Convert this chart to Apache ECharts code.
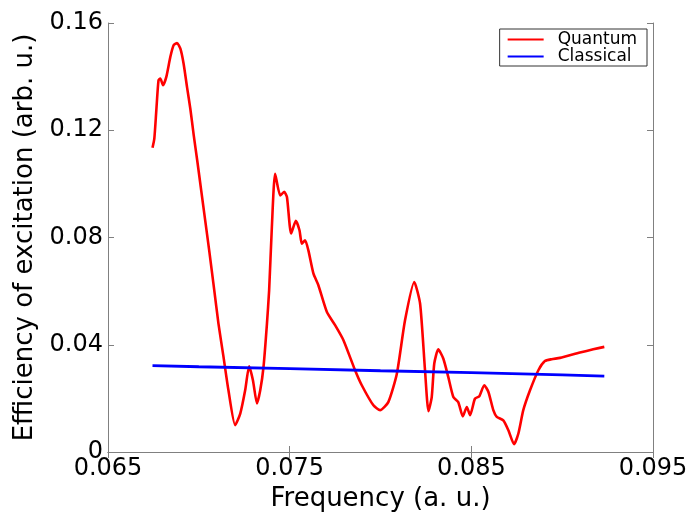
<!DOCTYPE html>
<html>
<head>
<meta charset="utf-8">
<script src="https://cdn.jsdelivr.net/npm/echarts@6/dist/echarts.min.js"></script>
<style>
html,body{margin:0;padding:0;background:#fff;}
#chart{width:691px;height:517px;}
</style>
</head>
<body>
<div id="chart"></div>
<script>
// Frequency ticks (a. u.)
const xTicks = [0.065, 0.075, 0.085, 0.095];
const yTicks = [0, 0.04, 0.08, 0.12, 0.16];

// Quantum curve: frequency values and efficiency values
const quantumFreq = [
0.06745,0.06755,0.06766,0.06778,0.06788,0.06803,0.06821,0.06843,0.06861,0.06880,
0.06898,0.06916,0.06935,0.06953,0.06972,0.06991,0.07013,0.07035,0.07057,0.07085,
0.07108,0.07136,0.07163,0.07200,0.07228,0.07255,0.07277,0.07298,0.07320,0.07338,
0.07356,0.07375,0.07387,0.07402,0.07420,0.07448,0.07470,0.07485,0.07508,0.07534,
0.07554,0.07567,0.07585,0.07603,0.07631,0.07658,0.07705,0.07750,0.07796,0.07860,
0.07897,0.07961,0.07998,0.08043,0.08090,0.08135,0.08186,0.08218,0.08245,0.08264,
0.08282,0.08296,0.08318,0.08346,0.08373,0.08401,0.08428,0.08453,0.08475,0.08493,
0.08520,0.08544,0.08571,0.08594,0.08621,0.08640,0.08676,0.08704,0.08735,0.08759,
0.08786,0.08823,0.08869,0.08905,0.08942,0.08988,0.09098,0.09171,0.09232];
const quantumEff = [
0.1135,0.1169,0.1274,0.1386,0.1393,0.1368,0.1399,0.1473,0.1517,0.1525,
0.1505,0.1449,0.1361,0.1281,0.1181,0.1088,0.0976,0.0864,0.0752,0.0603,
0.0479,0.0354,0.0230,0.0100,0.0143,0.0230,0.0320,0.0267,0.0181,0.0230,
0.0317,0.0479,0.0603,0.0839,0.1038,0.0957,0.0970,0.0951,0.0815,0.0862,
0.0827,0.0777,0.0790,0.0752,0.0665,0.0622,0.0522,0.0473,0.0417,0.0305,
0.0249,0.0174,0.0156,0.0186,0.0292,0.0491,0.0634,0.0553,0.0305,0.0152,
0.0205,0.0330,0.0383,0.0348,0.0280,0.0205,0.0186,0.0133,0.0168,0.0137,
0.0199,0.0208,0.0249,0.0224,0.0156,0.0131,0.0118,0.0081,0.0029,0.0069,
0.0156,0.0230,0.0305,0.0339,0.0346,0.0351,0.0371,0.0383,0.0392];

// Classical curve
const classicalFreq = [0.06745, 0.0700, 0.0750, 0.0800, 0.0850, 0.0900, 0.09232];
const classicalEff  = [0.0322, 0.0318, 0.0311, 0.0303, 0.0296, 0.0288, 0.0283];

const toPairs = (xs, ys) => xs.map((x, i) => [x, ys[i]]);

const FONT = 'DejaVu Sans';
const AX = '#808080';

const chart = echarts.init(document.getElementById('chart'));
const baseX = {
  type: 'value', min: 0.065, max: 0.095, interval: 0.005,
  axisLine: {show: true, lineStyle: {color: AX, width: 1}},
  splitLine: {show: false}
};
const baseY = {
  type: 'value', min: 0, max: 0.16, interval: 0.04,
  axisLine: {show: true, lineStyle: {color: AX, width: 1}},
  splitLine: {show: false}
};
chart.setOption({
  animation: false,
  backgroundColor: '#fff',
  grid: {left: 108, right: 38, top: 23, bottom: 65, containLabel: false},
  legend: {
    right: 44, top: 29, orient: 'vertical',
    backgroundColor: '#fff', borderColor: '#333', borderWidth: 1,
    padding: [2, 10, 1, 8], itemGap: 0, itemWidth: 36, itemHeight: 2,
    icon: 'rect',
    textStyle: {fontFamily: FONT, fontSize: 17, lineHeight: 16, color: '#000', padding: [0, 0, 0, 9]},
    data: ['Quantum', 'Classical']
  },
  xAxis: [
    Object.assign({}, baseX, {
      position: 'bottom',
      name: 'Frequency (a. u.)', nameLocation: 'middle', nameGap: 32,
      nameTextStyle: {fontFamily: FONT, fontSize: 26, color: '#000'},
      axisTick: {show: true, inside: true, length: 6, customValues: xTicks, lineStyle: {color: AX}},
      axisLabel: {show: true, customValues: xTicks, margin: 5, fontFamily: FONT, fontSize: 24, color: '#000',
        formatter: v => v.toFixed(3)}
    }),
    Object.assign({}, baseX, {
      position: 'top',
      axisTick: {show: true, inside: true, length: 6, customValues: xTicks, lineStyle: {color: AX}},
      axisLabel: {show: false}
    })
  ],
  yAxis: [
    Object.assign({}, baseY, {
      position: 'left',
      name: 'Efficiency of excitation (arb. u.)', nameLocation: 'middle', nameGap: 66,
      nameTextStyle: {fontFamily: FONT, fontSize: 26, color: '#000'},
      axisTick: {show: true, inside: true, length: 6, lineStyle: {color: AX}},
      axisLabel: {show: true, margin: 5, fontFamily: FONT, fontSize: 24, color: '#000',
        formatter: v => v === 0 ? '0' : v.toFixed(2)}
    }),
    Object.assign({}, baseY, {
      position: 'right',
      axisTick: {show: true, inside: true, length: 6, lineStyle: {color: AX}},
      axisLabel: {show: false}
    })
  ],
  series: [
    {
      name: 'Quantum', type: 'line', xAxisIndex: 0, yAxisIndex: 0,
      data: toPairs(quantumFreq, quantumEff),
      symbol: 'none', smooth: 0.2,
      lineStyle: {color: '#ff0000', width: 2.6},
      itemStyle: {color: '#ff0000'}
    },
    {
      name: 'Classical', type: 'line', xAxisIndex: 0, yAxisIndex: 0,
      data: toPairs(classicalFreq, classicalEff),
      symbol: 'none',
      lineStyle: {color: '#0000ff', width: 2.8},
      itemStyle: {color: '#0000ff'}
    }
  ]
});
</script>
</body>
</html>
